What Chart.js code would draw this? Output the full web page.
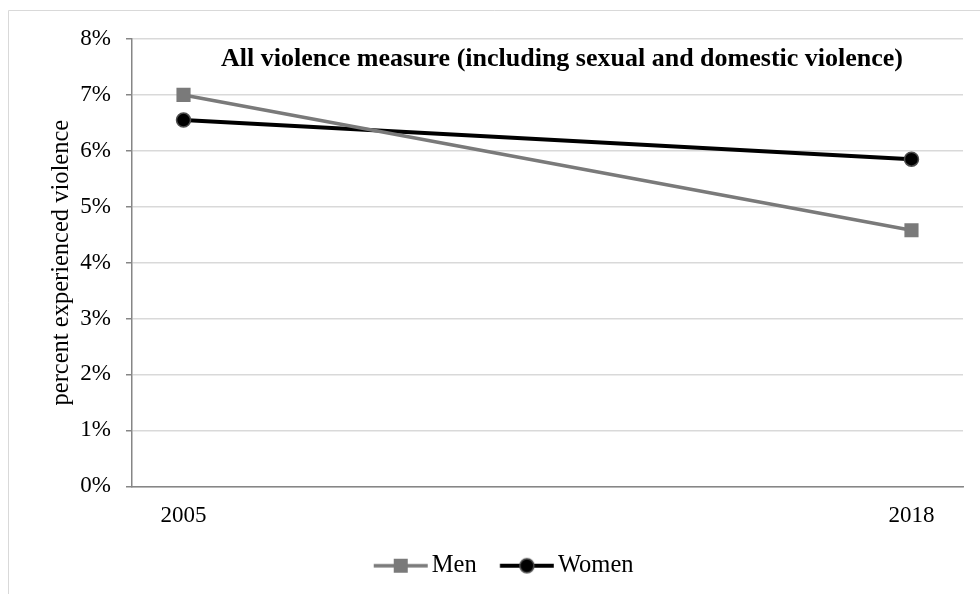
<!DOCTYPE html>
<html>
<head>
<meta charset="utf-8">
<script src="https://cdn.jsdelivr.net/npm/chart.js@4.4.1/dist/chart.umd.min.js"></script>
<style>
  html, body { margin: 0; padding: 0; background: #fff; overflow: hidden; }
  #wrap { position: relative; width: 980px; height: 594px; }
</style>
</head>
<body>
<div id="wrap"><canvas id="violenceChart" width="980" height="594"></canvas></div>
<script>
// data
const years = [2005, 2018];
const menValues = [7.0, 4.58];
const womenValues = [6.55, 5.85];
const yTicks = [0, 1, 2, 3, 4, 5, 6, 7, 8];
const seriesNames = ["Men", "Women"];
const chartTitle = "All violence measure (including sexual and domestic violence)";
const yTitle = "percent experienced violence";

const FONT = "'Liberation Serif', 'Times New Roman', serif";
const GREY = "#7a7a7a";

// line+marker image for the legend (line sits a bit right of the image centre)
function legendImage(color, shape, lineW) {
  const c = document.createElement("canvas");
  c.width = 66;
  c.height = 18;
  const g = c.getContext("2d");
  const x0 = 11.75;
  const mid = x0 + 27;
  g.strokeStyle = color;
  g.lineWidth = lineW;
  g.beginPath();
  g.moveTo(x0, 9);
  g.lineTo(x0 + 54, 9);
  g.stroke();
  if (shape === "rect") {
    g.fillStyle = color;
    g.fillRect(mid - 7, 2, 14, 14);
  } else {
    g.fillStyle = "#000";
    g.strokeStyle = "#4d4d4d";
    g.lineWidth = 1.5;
    g.beginPath();
    g.arc(mid, 9, 7, 0, Math.PI * 2);
    g.fill();
    g.stroke();
  }
  return c;
}

// frame + title inside the plot
const decorations = {
  id: "decorations",
  beforeDraw(chart) {
    const ctx = chart.ctx;
    ctx.save();
    ctx.strokeStyle = "#d9d9d9";
    ctx.lineWidth = 1;
    ctx.beginPath();
    ctx.moveTo(8.5, 594);
    ctx.lineTo(8.5, 10.5);
    ctx.lineTo(980, 10.5);
    ctx.stroke();
    ctx.restore();
  },
  afterDatasetsDraw(chart) {
    const ctx = chart.ctx;
    ctx.save();
    ctx.font = "bold 26px " + FONT;
    ctx.fillStyle = "#000";
    ctx.textAlign = "center";
    ctx.textBaseline = "alphabetic";
    ctx.fillText(chartTitle, 562, 66);
    ctx.restore();
  },
};

const ctx = document.getElementById("violenceChart").getContext("2d");
const violenceChart = new Chart(ctx, {
  type: "line",
  data: {
    datasets: [
      {
        label: seriesNames[0],
        data: years.map((y, i) => ({ x: y, y: menValues[i] })),
        borderColor: GREY,
        backgroundColor: GREY,
        borderWidth: 3.5,
        pointStyle: "rect",
        pointRadius: 10,
        pointBorderWidth: 0,
        pointBackgroundColor: GREY,
        tension: 0,
      },
      {
        label: seriesNames[1],
        data: years.map((y, i) => ({ x: y, y: womenValues[i] })),
        borderColor: "#000",
        backgroundColor: "#000",
        borderWidth: 4,
        pointStyle: "circle",
        pointRadius: 7,
        pointBorderWidth: 1.5,
        pointBorderColor: "#4d4d4d",
        pointBackgroundColor: "#000",
        tension: 0,
      },
    ],
  },
  options: {
    responsive: false,
    animation: false,
    layout: {
      padding: { left: 41, right: 17, top: 39, bottom: 6 },
    },
    plugins: {
      legend: {
        display: true,
        position: "bottom",
        labels: {
          usePointStyle: true,
          pointStyleWidth: 49,
          padding: 20,
          color: "#000",
          font: { family: FONT, size: 24.5 },
          generateLabels(chart) {
            return chart.data.datasets.map((ds, i) => ({
              text: ds.label,
              datasetIndex: i,
              fontColor: "#000",
              lineWidth: 0,
              pointStyle: i === 0 ? legendImage(GREY, "rect", 3.5) : legendImage("#000", "circle", 4),
            }));
          },
        },
      },
      tooltip: { enabled: false },
    },
    scales: {
      x: {
        type: "linear",
        min: 2004.08,
        max: 2018.92,
        afterBuildTicks(scale) {
          scale.ticks = years.map((v) => ({ value: v }));
        },
        afterFit(scale) {
          scale.height = 47.25;
        },
        grid: { display: false },
        border: { display: true, color: "#868686", width: 1.5 },
        ticks: {
          padding: 8,
          color: "#000",
          font: { family: FONT, size: 23 },
          maxRotation: 0,
          callback: (v) => String(v),
        },
      },
      y: {
        min: 0,
        max: 8,
        afterBuildTicks(scale) {
          scale.ticks = yTicks.map((v) => ({ value: v }));
        },
        afterFit(scale) {
          scale.width = 91;
        },
        grid: {
          color: "#d9d9d9",
          lineWidth: 1.5,
          tickLength: 6,
          tickColor: "#868686",
        },
        border: { display: true, color: "#868686", width: 1.5 },
        ticks: {
          padding: 15,
          color: "#000",
          font: { family: FONT, size: 23 },
          callback: (v) => v + "%",
        },
        title: {
          display: true,
          text: yTitle,
          color: "#000",
          font: { family: FONT, size: 24.5 },
          padding: { top: 6, bottom: 0 },
        },
      },
    },
  },
  plugins: [decorations],
});
</script>
</body>
</html>
